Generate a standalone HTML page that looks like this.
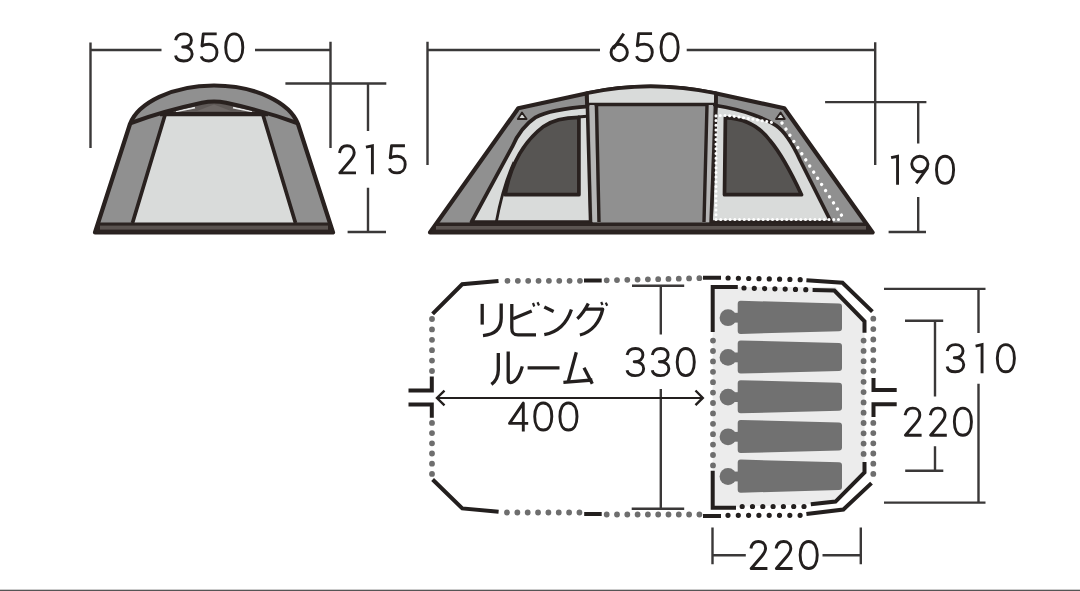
<!DOCTYPE html>
<html><head><meta charset="utf-8">
<style>
html,body{margin:0;padding:0;background:#fff;width:1080px;height:591px;overflow:hidden;font-family:"Liberation Sans",sans-serif}
svg{display:block}
</style></head><body>
<svg width="1080" height="591" viewBox="0 0 1080 591">
<rect width="1080" height="591" fill="#fff"/>

<!-- dimension lines (tents) -->
<g stroke="#3a3838" stroke-width="2.4" fill="none">
  <path d="M90.5,42.5 V148 M90.5,50 H161.5 M255,50 H330.5 M330.5,41.7 V148"/>
  <path d="M285.4,83.5 H386.3 M368,83.5 V131 M368,187.7 V232 M347.6,232 H386"/>
  <path d="M427.5,41.8 V165 M427.5,50 H600 M686.7,50 H875 M875.2,42.2 V165"/>
  <path d="M825.1,102.1 H926.4 M918.2,102.1 V143.4 M918.2,196.9 V232 M888.6,232 H926"/>
</g>

<!-- FRONT TENT -->
<g stroke-linejoin="round">
  <path d="M95,232.5 L130,124 C138,103 172,85.5 214,85.5 C256,85.5 290,103 298,124 L333,232.5 Z" fill="#909090" stroke="#29211f" stroke-width="4.2"/>
  <path d="M165,115 L263,115 L296,223 L132,223 Z" fill="#d9dbda"/>
  <path d="M165.3,114 L132.5,223 M262.7,114 L295.5,223" stroke="#29211f" stroke-width="3.7" fill="none"/>
  <path d="M160,116 L160,113 C180,108 200,102 214,101.5 C228,102 248,108 268,113 L268,116 Z" fill="#5f5957"/>
  <path d="M176,111.5 L195,107.6 M233,107.6 L252,111.5" stroke="#e8e8e8" stroke-width="1.6"/>
  <path d="M197,111 L214,104.5 L231,111 Z" fill="#6e6866"/>
  <path d="M160,114.1 H268" stroke="#29211f" stroke-width="4.4"/>
  <path d="M131,123 C150,116 180,107.5 202,102.8 Q214,100 226,102.8 C248,107.5 278,116 297,123" stroke="#29211f" stroke-width="4" fill="none"/>
  <path d="M95.5,233.3 L98.5,222.5 H329.5 L332.5,233.3 Z" fill="#2b2321"/>
  <rect x="100" y="225.6" width="228" height="4" fill="#5a5350"/>
</g>

<!-- SIDE TENT -->
<g stroke-linejoin="round">
  <path d="M430,232.5 L518.3,108.3 L586,93.5 Q650,79.5 716.5,93.5 L784.3,108.3 L872.6,232.5 Z" fill="#909090" stroke="#29211f" stroke-width="4.2"/>
  <!-- left light panel -->
  <path d="M471.5,222 L512.2,146.9 C516,138 524,125 535.5,117.4 C545,112 560,108.5 589,106.3 L591,222 Z" fill="#d9dbda" stroke="#29211f" stroke-width="3.7"/>
  <path d="M496.3,222 C500,202 506,180 514,162 M578,117 L590,116" stroke="#29211f" stroke-width="2.8" fill="none"/>
  <path d="M505.1,194.7 C510,168 522,143 543.6,126.4 C552,120.5 563,117.5 578.9,117.3 V194.7 Z" fill="#575553" stroke="#29211f" stroke-width="3.7"/>
  <!-- right light panel -->
  <path d="M831.1,222 L800,160 C795,149 787,133 776,125.5 C766,119 745,110 716,105.5 L711,222 Z" fill="#d9dbda" stroke="#29211f" stroke-width="3.7"/>
  <path d="M725.4,117.6 C745,118.5 760,127 770,140.5 C778,150 790,170 801.5,194.7 H724.5 Z" fill="#575553" stroke="#29211f" stroke-width="3.7"/>
  <!-- central panel -->
  <path d="M587,104.5 L716,104.5 L712,222 L591,222 Z" fill="#909090"/>
  <path d="M586.5,93.3 Q650,79.5 716,93.3 L716,104.5 L587,104.5 Z" fill="#d9dbda" stroke="#29211f" stroke-width="3.7"/>
  <path d="M589.5,105 L594.5,105 L597.5,222 L592.5,222 Z M708,105 L713,105 L710,222 L705,222 Z" fill="#b5b5b5"/>
  <path d="M587,93 L590.5,222 M596.5,105 L599,222 M716,93 L711,222 M707,105 L704,222" stroke="#29211f" stroke-width="3.4" fill="none"/>
  <!-- white dotted -->
  <path d="M716,219.5 V115.5 H727.6 C740,117 755,119.5 775,123 M716,219.5 H842" stroke="#fff" stroke-width="3" stroke-dasharray="0.01 4.7" stroke-linecap="round" fill="none"/>
  <path d="M782,123 L845.2,221" stroke="#fff" stroke-width="3.4" stroke-dasharray="0.01 7.3" stroke-linecap="round" fill="none"/>
  <!-- vents -->
  <path d="M517.8,119 L522,112.5 L526.6,119 Z M776,119 L780.6,112.5 L784.8,119 Z" fill="#d9dbda" stroke="#29211f" stroke-width="1.8"/>
  <!-- base -->
  <path d="M430,233.8 L438,222.5 H865 L873,233.8 Z" fill="#2b2321"/>
  <rect x="436" y="226" width="430" height="3.6" fill="#5c5552"/>
</g>

<!-- FLOOR PLAN -->
<path d="M712.7,287 H835.5 L864.5,321.3 V472.5 L835.5,501.6 L810.8,504.2 L712.7,507.7 Z" fill="#ececec"/>
<g fill="#717171">
  <path d="M740.7,300.8 L839,303.4 Q842,303.4 842,306.4 V328.3 Q842,331.3 839,331.3 L740.7,333.9 Q737.7,333.9 737.7,330.9 V303.8 Q737.7,300.8 740.7,300.8 Z"/>
  <circle cx="728" cy="317.7" r="8.4"/>
  <rect x="733" y="312.8" width="6" height="9.8"/>
  <path d="M740.7,340.5 L839,343.1 Q842,343.1 842,346.1 V368.0 Q842,371.0 839,371.0 L740.7,373.6 Q737.7,373.6 737.7,370.6 V343.5 Q737.7,340.5 740.7,340.5 Z"/>
  <circle cx="728" cy="357.4" r="8.4"/>
  <rect x="733" y="352.5" width="6" height="9.8"/>
  <path d="M740.7,380.2 L839,382.8 Q842,382.8 842,385.8 V407.7 Q842,410.7 839,410.7 L740.7,413.3 Q737.7,413.3 737.7,410.3 V383.2 Q737.7,380.2 740.7,380.2 Z"/>
  <circle cx="728" cy="397.1" r="8.4"/>
  <rect x="733" y="392.2" width="6" height="9.8"/>
  <path d="M740.7,419.9 L839,422.5 Q842,422.5 842,425.5 V447.4 Q842,450.4 839,450.4 L740.7,453.0 Q737.7,453.0 737.7,450.0 V422.9 Q737.7,419.9 740.7,419.9 Z"/>
  <circle cx="728" cy="436.8" r="8.4"/>
  <rect x="733" y="431.9" width="6" height="9.8"/>
  <path d="M740.7,459.6 L839,462.2 Q842,462.2 842,465.2 V487.1 Q842,490.1 839,490.1 L740.7,492.7 Q737.7,492.7 737.7,489.7 V462.6 Q737.7,459.6 740.7,459.6 Z"/>
  <circle cx="728" cy="476.5" r="8.4"/>
  <rect x="733" y="471.6" width="6" height="9.8"/>
</g>
<g stroke="#231f1e" stroke-width="4" fill="none" stroke-linejoin="miter">
  <path d="M432.6,313.9 L462.2,284.3 L498.5,281"/>
  <path d="M432.6,479.5 L462.3,508.4 L498.6,511.7"/>
  <path d="M584,280.4 H601.7 M584.2,514 H601.7"/>
  <path d="M431.8,376.4 V390.5 H408.5 M408.5,404.6 H431.8 V417.8"/>
  <path d="M703,277.7 H721 M806.4,280.2 L842.5,282.8 L872.4,311.6"/>
  <path d="M873.5,378 V390 H896.7 M896.7,404.3 H873.5 V417"/>
  <path d="M871.5,483.1 L843.4,509.5 L806.4,513.9 M721,516 H703"/>
  <path d="M712.7,331.9 V287 H737.8 M812.6,290 L834.4,290.5 L864.5,321.3 V332.7"/>
  <path d="M712.7,470.8 V507.7 H736 M810.8,504.2 L835.5,501.6 L864.5,472.5 V462"/>
</g>
<g>
  <path d="M728.1,278 L801,279.7" stroke="#231f1e" stroke-width="5.2" stroke-linecap="round" stroke-dasharray="0 10.3" fill="none"/>
  <path d="M744,288 L807,289.7" stroke="#231f1e" stroke-width="5.2" stroke-linecap="round" stroke-dasharray="0 10.3" fill="none"/>
  <path d="M742.2,506.5 H806" stroke="#231f1e" stroke-width="5.2" stroke-linecap="round" stroke-dasharray="0 10.3" fill="none"/>
  <path d="M728,515.3 H801" stroke="#231f1e" stroke-width="5.2" stroke-linecap="round" stroke-dasharray="0 10.3" fill="none"/>
</g>
<g>
  <path d="M507.5,280.8 H581" stroke="#6e6e6e" stroke-width="5.8" stroke-linecap="round" stroke-dasharray="0 10.35" fill="none"/>
  <path d="M606.7,280.3 L700,278.2" stroke="#6e6e6e" stroke-width="5.8" stroke-linecap="round" stroke-dasharray="0 10.3" fill="none"/>
  <path d="M507,512.5 H581" stroke="#6e6e6e" stroke-width="5.8" stroke-linecap="round" stroke-dasharray="0 10.35" fill="none"/>
  <path d="M606.7,514.5 H700" stroke="#6e6e6e" stroke-width="5.8" stroke-linecap="round" stroke-dasharray="0 10.3" fill="none"/>
  <path d="M432,319 V372" stroke="#6e6e6e" stroke-width="5.8" stroke-linecap="round" stroke-dasharray="0 10.4" fill="none"/>
  <path d="M432,422.9 V475" stroke="#6e6e6e" stroke-width="5.8" stroke-linecap="round" stroke-dasharray="0 10.2" fill="none"/>
  <path d="M873.3,318.7 V372" stroke="#6e6e6e" stroke-width="5.8" stroke-linecap="round" stroke-dasharray="0 10.4" fill="none"/>
  <path d="M873.3,422.9 V474" stroke="#6e6e6e" stroke-width="5.8" stroke-linecap="round" stroke-dasharray="0 10.2" fill="none"/>
  <path d="M713,340.6 V466" stroke="#6e6e6e" stroke-width="5.8" stroke-linecap="round" stroke-dasharray="0 10.4" fill="none"/>
  <path d="M863.6,340.6 V455" stroke="#6e6e6e" stroke-width="5.8" stroke-linecap="round" stroke-dasharray="0 10.3" fill="none"/>
</g>

<g stroke="#3a3838" stroke-width="2.4" fill="none">
  <path d="M632,285.8 H684.2 M660.8,285.8 V334.4 M660.8,389 V508.7 M631.7,508.7 H684.2"/>
  <path d="M884,288.9 H985.5 M978.5,288.9 V333 M978.5,383.8 V502.6 M884,502.6 H985.5"/>
  <path d="M905,320.8 H943.2 M935,320.8 V396.5 M935,446.3 V470.7 M905.2,470.7 H943.3"/>
  <path d="M712.5,527.5 V564.2 M860.8,527.5 V564.2 M712.5,555.3 H745.8 M822.5,555.3 H860.8"/>
</g>
<g stroke="#231f1e" stroke-width="2.1" fill="none">
  <path d="M437,398 H702.5"/>
  <path d="M444.5,390.7 L437,398 L444.5,405.3 M695.5,390.5 L702.8,397.9 L695.5,405.2" stroke-width="2.4"/>
</g>

<!-- numbers -->
<g stroke="#231f1e" stroke-width="2.9" fill="none" stroke-linejoin="round">
<g transform="translate(174.10,32.40)"><path d="M1.5,7.8 C2.3,3.6 5.6,1.45 9.9,1.45 C14.6,1.45 17.3,4.3 17.3,7.8 C17.3,11.7 14.2,14.6 8.6,14.6 C14.8,14.6 18.05,17.6 18.05,21.6 C18.05,25.8 14.6,28.55 9.6,28.55 C5.2,28.55 2,26.6 1.45,23.2"/></g>
<g transform="translate(199.70,32.40)"><path d="M17,1.45 H3.6 L2.3,13.6 C4.2,12.4 6.8,11.9 9.4,11.9 C14.3,11.9 17.25,15.3 17.25,20.1 C17.25,25.1 13.9,28.55 9.1,28.55 C5.2,28.55 2.3,26.8 1.45,24"/></g>
<g transform="translate(224.25,32.40)"><path d="M10,1.45 C15.6,1.45 18.55,7.2 18.55,15 C18.55,22.8 15.6,28.55 10,28.55 C4.4,28.55 1.45,22.8 1.45,15 C1.45,7.2 4.4,1.45 10,1.45 Z"/></g>
<g transform="translate(337.80,144.30)"><path d="M1.7,8.6 C2.4,4.2 5.4,1.45 9.3,1.45 C13.6,1.45 16.4,4.4 16.4,8.3 C16.4,11.2 15,13.4 12.6,16.2 L2,28.55 H18.2"/></g>
<g transform="translate(365.55,144.30)"><path d="M0.4,2.9 L6.85,1.45 V30" stroke-linejoin="miter"/></g>
<g transform="translate(387.95,144.30)"><path d="M17,1.45 H3.6 L2.3,13.6 C4.2,12.4 6.8,11.9 9.4,11.9 C14.3,11.9 17.25,15.3 17.25,20.1 C17.25,25.1 13.9,28.55 9.1,28.55 C5.2,28.55 2.3,26.8 1.45,24"/></g>
<g transform="translate(609.60,32.20)"><path d="M14.2,1.45 L3.6,16.8"/><ellipse cx="9.6" cy="20.3" rx="8.15" ry="8.25"/></g>
<g transform="translate(635.05,32.20)"><path d="M17,1.45 H3.6 L2.3,13.6 C4.2,12.4 6.8,11.9 9.4,11.9 C14.3,11.9 17.25,15.3 17.25,20.1 C17.25,25.1 13.9,28.55 9.1,28.55 C5.2,28.55 2.3,26.8 1.45,24"/></g>
<g transform="translate(659.60,32.20)"><path d="M10,1.45 C15.6,1.45 18.55,7.2 18.55,15 C18.55,22.8 15.6,28.55 10,28.55 C4.4,28.55 1.45,22.8 1.45,15 C1.45,7.2 4.4,1.45 10,1.45 Z"/></g>
<g transform="translate(890.70,154.80)"><path d="M0.4,2.9 L6.85,1.45 V30" stroke-linejoin="miter"/></g>
<g transform="translate(910.30,154.80)"><ellipse cx="9.55" cy="9.2" rx="8.1" ry="7.75"/><path d="M17.2,12.8 L5.9,28.6"/></g>
<g transform="translate(935.05,154.80)"><path d="M10,1.45 C15.6,1.45 18.55,7.2 18.55,15 C18.55,22.8 15.6,28.55 10,28.55 C4.4,28.55 1.45,22.8 1.45,15 C1.45,7.2 4.4,1.45 10,1.45 Z"/></g>
<g transform="translate(625.60,347.10)"><path d="M1.5,7.8 C2.3,3.6 5.6,1.45 9.9,1.45 C14.6,1.45 17.3,4.3 17.3,7.8 C17.3,11.7 14.2,14.6 8.6,14.6 C14.8,14.6 18.05,17.6 18.05,21.6 C18.05,25.8 14.6,28.55 9.6,28.55 C5.2,28.55 2,26.6 1.45,23.2"/></g>
<g transform="translate(650.80,347.10)"><path d="M1.5,7.8 C2.3,3.6 5.6,1.45 9.9,1.45 C14.6,1.45 17.3,4.3 17.3,7.8 C17.3,11.7 14.2,14.6 8.6,14.6 C14.8,14.6 18.05,17.6 18.05,21.6 C18.05,25.8 14.6,28.55 9.6,28.55 C5.2,28.55 2,26.6 1.45,23.2"/></g>
<g transform="translate(675.75,347.10)"><path d="M10,1.45 C15.6,1.45 18.55,7.2 18.55,15 C18.55,22.8 15.6,28.55 10,28.55 C4.4,28.55 1.45,22.8 1.45,15 C1.45,7.2 4.4,1.45 10,1.45 Z"/></g>
<g transform="translate(507.90,401.50)"><path d="M20.3,21.9 H1.6 L15.4,1.6 V30"/></g>
<g transform="translate(533.25,401.50)"><path d="M10,1.45 C15.6,1.45 18.55,7.2 18.55,15 C18.55,22.8 15.6,28.55 10,28.55 C4.4,28.55 1.45,22.8 1.45,15 C1.45,7.2 4.4,1.45 10,1.45 Z"/></g>
<g transform="translate(558.45,401.50)"><path d="M10,1.45 C15.6,1.45 18.55,7.2 18.55,15 C18.55,22.8 15.6,28.55 10,28.55 C4.4,28.55 1.45,22.8 1.45,15 C1.45,7.2 4.4,1.45 10,1.45 Z"/></g>
<g transform="translate(945.70,343.20)"><path d="M1.5,7.8 C2.3,3.6 5.6,1.45 9.9,1.45 C14.6,1.45 17.3,4.3 17.3,7.8 C17.3,11.7 14.2,14.6 8.6,14.6 C14.8,14.6 18.05,17.6 18.05,21.6 C18.05,25.8 14.6,28.55 9.6,28.55 C5.2,28.55 2,26.6 1.45,23.2"/></g>
<g transform="translate(975.20,343.20)"><path d="M0.4,2.9 L6.85,1.45 V30" stroke-linejoin="miter"/></g>
<g transform="translate(995.85,343.20)"><path d="M10,1.45 C15.6,1.45 18.55,7.2 18.55,15 C18.55,22.8 15.6,28.55 10,28.55 C4.4,28.55 1.45,22.8 1.45,15 C1.45,7.2 4.4,1.45 10,1.45 Z"/></g>
<g transform="translate(903.40,406.70)"><path d="M1.7,8.6 C2.4,4.2 5.4,1.45 9.3,1.45 C13.6,1.45 16.4,4.4 16.4,8.3 C16.4,11.2 15,13.4 12.6,16.2 L2,28.55 H18.2"/></g>
<g transform="translate(928.60,406.70)"><path d="M1.7,8.6 C2.4,4.2 5.4,1.45 9.3,1.45 C13.6,1.45 16.4,4.4 16.4,8.3 C16.4,11.2 15,13.4 12.6,16.2 L2,28.55 H18.2"/></g>
<g transform="translate(952.90,406.70)"><path d="M10,1.45 C15.6,1.45 18.55,7.2 18.55,15 C18.55,22.8 15.6,28.55 10,28.55 C4.4,28.55 1.45,22.8 1.45,15 C1.45,7.2 4.4,1.45 10,1.45 Z"/></g>
<g transform="translate(749.20,540.00)"><path d="M1.7,8.6 C2.4,4.2 5.4,1.45 9.3,1.45 C13.6,1.45 16.4,4.4 16.4,8.3 C16.4,11.2 15,13.4 12.6,16.2 L2,28.55 H18.2"/></g>
<g transform="translate(774.40,540.00)"><path d="M1.7,8.6 C2.4,4.2 5.4,1.45 9.3,1.45 C13.6,1.45 16.4,4.4 16.4,8.3 C16.4,11.2 15,13.4 12.6,16.2 L2,28.55 H18.2"/></g>
<g transform="translate(798.70,540.00)"><path d="M10,1.45 C15.6,1.45 18.55,7.2 18.55,15 C18.55,22.8 15.6,28.55 10,28.55 C4.4,28.55 1.45,22.8 1.45,15 C1.45,7.2 4.4,1.45 10,1.45 Z"/></g>
</g>

<!-- katakana -->
<g stroke="#231f1e" stroke-width="3.3" fill="none" stroke-linecap="butt" stroke-linejoin="round">
  <path d="M482.2,303.9 V324.6"/>
  <path d="M501.2,303.5 V318 C501.2,329 495,334.5 483,335.6"/>
  <path d="M511.8,303.9 V328 C511.8,333 513.5,334.8 518,334.8 H536"/>
  <path d="M513,318.7 L531.7,311"/>
  <path d="M533,303 L534.3,306.5 M537.5,302.3 L539,305.5" stroke-width="2.2"/>
  <path d="M544.3,306.9 L553.6,311.5"/>
  <path d="M571.4,309.4 C567,323 558,332 544.3,334.6"/>
  <path d="M588.3,303.5 C585,310 581.5,315 577.3,318.7"/>
  <path d="M585.8,309.2 H602.7 C600,322 592,332 579.9,335"/>
  <path d="M601.2,302 L602.5,305 M605.8,302.6 L607.2,305.8" stroke-width="2.2"/>
  <path d="M498.3,353 V370 C498.3,377 496,381 491.4,384.4"/>
  <path d="M508.2,351.5 V379 C508.2,383.2 511,383.5 514.5,381 C518,378.5 520.8,372 522.3,366.3"/>
  <path d="M527.6,367.9 H559.5" stroke-width="3.4"/>
  <path d="M576.3,352.2 L568.3,381.5"/>
  <path d="M563.4,382.3 L592.3,380"/>
  <path d="M584,367.8 L592.3,383.8"/>
</g>

<rect x="0" y="589.7" width="1080" height="1.3" fill="#555"/>
</svg>
</body></html>
